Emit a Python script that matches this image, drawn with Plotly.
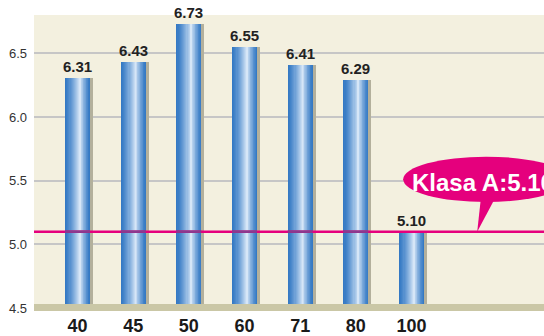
import plotly.graph_objects as go

# Category labels and bar values
categories = ["40", "45", "50", "60", "71", "80", "100"]
values = [6.31, 6.43, 6.73, 6.55, 6.41, 6.29, 5.10]
target = 5.10
target_label = "Klasa A:5.10"
y_ticks = [4.5, 5.0, 5.5, 6.0, 6.5]

Y_MIN, Y_MAX = 4.4767, 6.802
X_MIN, X_MAX = -0.781, 8.38
BAR_W = 0.449
BASE = 4.5
PX = 129.0                 # pixels per value unit on the y axis

positions = list(range(len(categories)))

fig = go.Figure()


def mix(c1, c2, t):
    a = [int(c1[i:i + 2], 16) for i in (1, 3, 5)]
    b = [int(c2[i:i + 2], 16) for i in (1, 3, 5)]
    return "#" + "".join(f"{round(a[i] + (b[i] - a[i]) * t):02x}" for i in range(3))


# soft drop shadow on the right side of each column
fig.add_trace(go.Bar(
    x=positions, y=[v - BASE for v in values], base=BASE,
    width=BAR_W, offset=-BAR_W / 2 + 0.055,
    marker=dict(color="#b3b09c", line=dict(width=0)),
    hoverinfo="skip", showlegend=False,
))

# cylinder-like shading: nested columns getting lighter towards the highlight
dark, light = "#3479c4", "#d6e6f7"
n_layers = 14
left, right = -BAR_W / 2, BAR_W / 2
peak = left + 0.6 * BAR_W
for k in range(n_layers):
    t = k / (n_layers - 1)
    l_edge = left + t * (peak - left) * 0.97
    r_edge = right - t * (right - peak) * 0.97
    fig.add_trace(go.Bar(
        x=positions, y=[v - BASE for v in values], base=BASE,
        width=r_edge - l_edge, offset=l_edge,
        marker=dict(color=mix(dark, light, t ** 1.3), line=dict(width=0)),
        hoverinfo="skip", showlegend=False,
    ))

# value labels above the columns
fig.add_trace(go.Bar(
    x=positions, y=[v - BASE for v in values], base=BASE,
    width=BAR_W, offset=-BAR_W / 2,
    marker=dict(color="rgba(0,0,0,0)", line=dict(width=0)),
    text=[f"{v:.2f}" for v in values], textposition="outside", constraintext="none",
    textfont=dict(family="Liberation Sans", size=15, color="#222222", weight="bold"),
    cliponaxis=False, hoverinfo="skip", showlegend=False,
))

shapes = []
# target line across the chart
shapes.append(dict(type="line", xref="paper", x0=0, x1=1, yref="y", y0=target, y1=target,
                   line=dict(color="#e5007d", width=2.5), layer="above"))
# where the target line crosses a column it looks darker
for x, v in zip(positions, values):
    if v > target + 0.02:
        shapes.append(dict(type="line", xref="x", x0=x - BAR_W / 2, x1=x + BAR_W / 2,
                           yref="y", y0=target, y1=target,
                           line=dict(color="#8a3a8e", width=2.5), layer="above"))

# floor strip
shapes.append(dict(type="rect", xref="paper", x0=0, x1=1, yref="y", y0=Y_MIN, y1=BASE + 4 / PX,
                   fillcolor="#cac7a6", line=dict(width=0), layer="above"))

# callout bubble for the target
cx, cy = 7.34, target + 53 / PX
shapes.append(dict(type="circle", xref="x", yref="y",
                   x0=cx - 1.49, x1=cx + 1.49, y0=cy - 23 / PX, y1=cy + 23 / PX,
                   fillcolor="#e5007d", line=dict(width=0), layer="above"))
tip_x = 7.18
stem = 36 / PX
shapes.append(dict(type="path", xref="x", yref="y",
                   path=f"M {tip_x},{target} L {tip_x + 0.07},{target + stem} "
                        f"L {tip_x + 0.34},{target + stem} Z",
                   fillcolor="#e5007d", line=dict(width=0), layer="above"))

fig.add_annotation(x=cx - 0.06, y=cy - 3 / PX, xref="x", yref="y", text=target_label,
                   showarrow=False, xanchor="center", yanchor="middle",
                   font=dict(family="Liberation Sans", size=24, color="white", weight="bold"))

fig.update_layout(
    width=544, height=336,
    margin=dict(l=34, r=0, t=15, b=21),
    paper_bgcolor="white", plot_bgcolor="#f3f0df",
    barmode="overlay", bargap=0,
    shapes=shapes,
    showlegend=False,
    xaxis=dict(range=[X_MIN, X_MAX], tickvals=positions, ticktext=categories,
               showgrid=False, zeroline=False, showline=False, ticks="",
               ticklabelstandoff=2,
               tickfont=dict(family="Liberation Sans", size=18, color="#1a1a1a", weight="bold")),
    yaxis=dict(range=[Y_MIN, Y_MAX], tickvals=y_ticks, ticktext=[f"{t:.1f}" for t in y_ticks],
               showgrid=True, gridcolor="#c6c6c6", gridwidth=1.5, zeroline=False,
               showline=False, ticks="", ticklabelstandoff=6,
               tickfont=dict(family="Liberation Sans", size=13, color="#333333")),
)

fig.write_html("out.html")
